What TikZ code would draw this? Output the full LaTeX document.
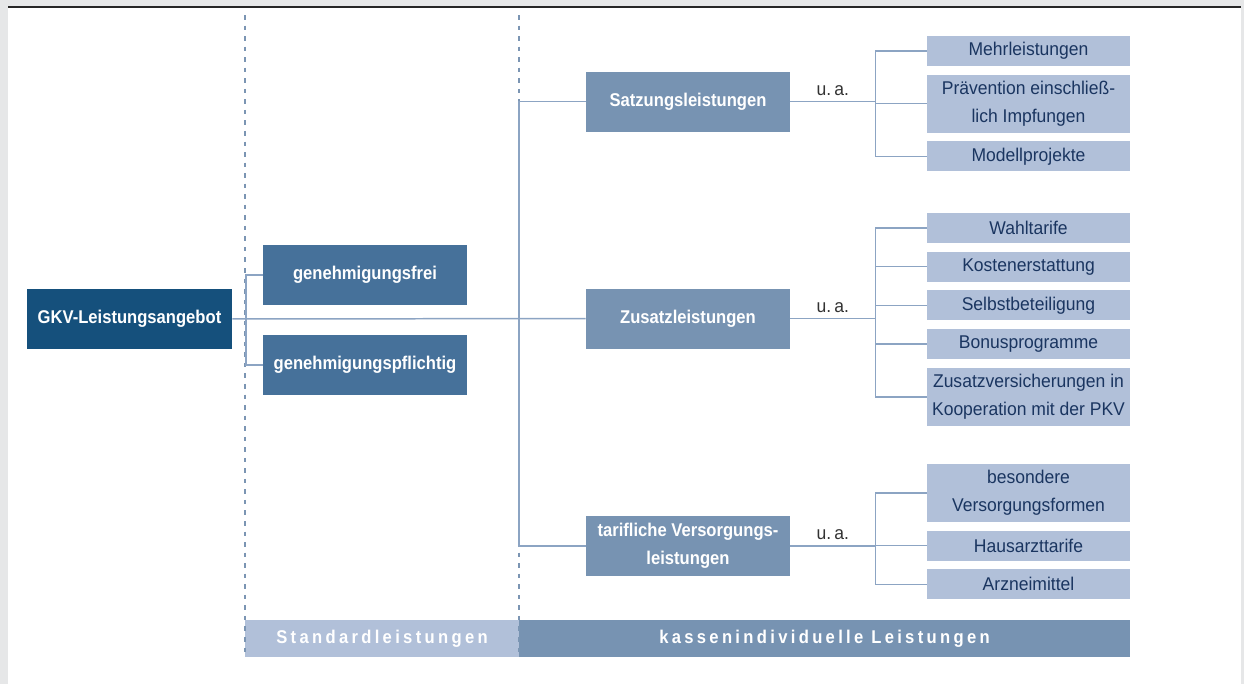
\documentclass[tikz,border=0pt]{standalone}
\usepackage{fontspec}
\setmainfont{Liberation Sans}[FakeStretch=0.95, BoldFeatures={FakeStretch=0.9}]
\usepackage{xcolor}
\usetikzlibrary{positioning, calc}

\definecolor{gkvblue}{HTML}{15507C}
\definecolor{midblue}{HTML}{46719A}
\definecolor{greyblue}{HTML}{7793B2}
\definecolor{paleblue}{HTML}{B1C0D9}
\definecolor{navytext}{HTML}{1A3560}
\definecolor{linkblue}{HTML}{8CA4C3}
\definecolor{sepblue}{HTML}{7B95B3}
\definecolor{framegray}{HTML}{E6E7E8}

\begin{document}
\begin{tikzpicture}[
    x=0.02cm, y=-0.02cm,
    node distance=0.16cm,
    boldbox/.style={rectangle, text=white, font=\fontsize{10.5}{16}\selectfont\bfseries, minimum width=4.08cm, minimum height=1.2cm, align=center, inner sep=1pt},
    rootbox/.style={boldbox, fill=gkvblue, minimum width=4.1cm},
    kindbox/.style={boldbox, fill=midblue},
    groupbox/.style={boldbox, fill=greyblue},
    itembox/.style={rectangle, fill=paleblue, text=navytext, font=\fontsize{10.5}{16}\selectfont, minimum width=4.06cm, minimum height=0.6cm, align=center, inner sep=1pt},
    tallbox/.style={itembox, minimum height=1.16cm},
    banner/.style={rectangle, text=white, font=\fontsize{10.5}{16}\selectfont\bfseries\addfontfeatures{LetterSpace=18}, minimum height=0.74cm, inner sep=0pt},
    link/.style={draw=linkblue, line width=0.85pt},
    sep/.style={draw=sepblue, line width=0.9pt, dash pattern=on 2.6pt off 3.4pt},
    ua/.style={font=\fontsize{10.5}{16}\selectfont, text=black!80, inner sep=3pt}
]

    % frame
    \fill[framegray] (0,0) rectangle (1244,684);
    \fill[white] (8,8) rectangle (1241,684);
    \draw[black!85, line width=1.1pt] (8,7) -- (1241,7);

    % bottom banners
    \node[banner, fill=paleblue, minimum width=5.48cm] (std) at (382,638.5) {Standardleistungen};
    \node[banner, fill=greyblue, minimum width=12.22cm] (kasse) at (824.5,638.5) {kassenindividuelle Leistungen};

    % separators
    \draw[sep] (245,15) -- (245,657);
    \draw[sep] (519,15) -- (519,657);

    % left part
    \node[rootbox] (gkv) at (129.5,319) {GKV-Leistungsangebot};
    \node[kindbox] (frei) at (365,275) {genehmigungsfrei};
    \node[kindbox] (pflicht) at (365,365) {genehmigungspflichtig};

    % middle column
    \node[groupbox] (satz) at (688,101.5) {Satzungsleistungen};
    \node[groupbox] (zusatz) at (688,318.5) {Zusatzleistungen};
    \node[groupbox] (tarif) at (688,546) {tarifliche Versorgungs-\\leistungen};

    % right column
    \node[itembox] (mehr) at (1028.5,51) {Mehrleistungen};
    \node[tallbox, below=of mehr] (praev) {Prävention einschließ-\\lich Impfungen};
    \node[itembox, below=of praev] (modell) {Modellprojekte};

    \node[itembox] (wahl) at (1028.5,228) {Wahltarife};
    \node[itembox, below=of wahl] (kosten) {Kostenerstattung};
    \node[itembox, below=of kosten] (selbst) {Selbstbeteiligung};
    \node[itembox, below=of selbst] (bonus) {Bonusprogramme};
    \node[tallbox, below=of bonus] (zvers) {Zusatzversicherungen in\\Kooperation mit der PKV};

    \node[tallbox] (besond) at (1028.5,493) {besondere\\Versorgungsformen};
    \node[itembox, below=of besond] (haus) {Hausarzttarife};
    \node[itembox, below=of haus] (arznei) {Arzneimittel};

    % branch points
    \coordinate (st) at (246,319);
    \coordinate (ki) at (519,319);
    \coordinate (ua1) at ($(satz.east)+(1.7cm,0)$);
    \coordinate (ua2) at ($(zusatz.east)+(1.7cm,0)$);
    \coordinate (ua3) at ($(tarif.east)+(1.7cm,0)$);

    % connectors
    \draw[link] (gkv) -- (zusatz);
    \draw[link] (st) |- (frei);
    \draw[link] (st) |- (pflicht);
    \draw[link] (ki) |- (satz);
    \draw[link] (ki) |- (tarif);

    \draw[link] (satz) -- node[ua, above] {u.\,a.} (ua1);
    \draw[link] (zusatz) -- node[ua, above] {u.\,a.} (ua2);
    \draw[link] (tarif) -- node[ua, above] {u.\,a.} (ua3);
    \foreach \n in {mehr, praev, modell}
        \draw[link] (ua1) |- (\n);
    \foreach \n in {wahl, kosten, selbst, bonus, zvers}
        \draw[link] (ua2) |- (\n);
    \foreach \n in {besond, haus, arznei}
        \draw[link] (ua3) |- (\n);

\end{tikzpicture}
\end{document}
